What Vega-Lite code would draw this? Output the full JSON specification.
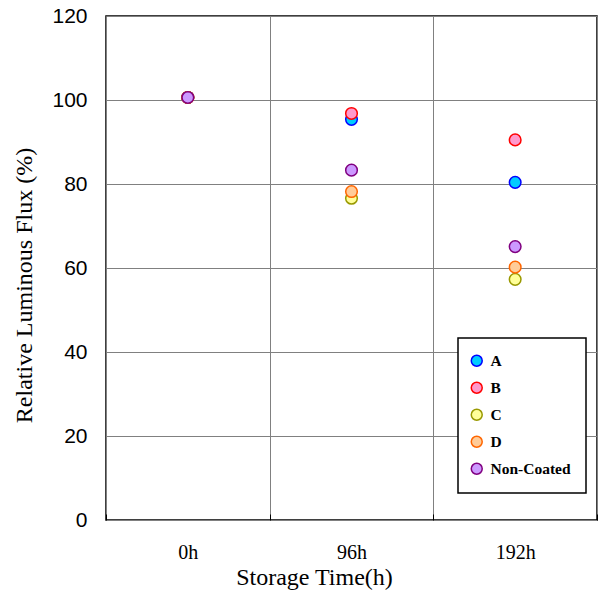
{
  "$schema": "https://vega.github.io/schema/vega-lite/v6.json",
  "autosize": "none",
  "padding": {"left": 106, "top": 16, "right": 6, "bottom": 80},
  "width": 491,
  "height": 504,
  "background": "white",
  "config": {
    "view": {"stroke": "#000", "strokeWidth": 1.5},
    "axis": {"domain": false}
  },
  "data": {
    "values": [
      {"time": "0h", "series": "A", "flux": 100.6},
      {"time": "0h", "series": "B", "flux": 100.6},
      {"time": "0h", "series": "C", "flux": 100.6},
      {"time": "0h", "series": "D", "flux": 100.6},
      {"time": "0h", "series": "Non-Coated", "flux": 100.6},
      {"time": "96h", "series": "A", "flux": 95.4},
      {"time": "96h", "series": "B", "flux": 96.8},
      {"time": "96h", "series": "C", "flux": 76.6},
      {"time": "96h", "series": "D", "flux": 78.2},
      {"time": "96h", "series": "Non-Coated", "flux": 83.3},
      {"time": "192h", "series": "A", "flux": 80.4},
      {"time": "192h", "series": "B", "flux": 90.5},
      {"time": "192h", "series": "C", "flux": 57.3},
      {"time": "192h", "series": "D", "flux": 60.2},
      {"time": "192h", "series": "Non-Coated", "flux": 65.1}
    ]
  },
  "mark": {"type": "circle", "size": 135, "strokeWidth": 1.5, "opacity": 1},
  "encoding": {
    "x": {
      "field": "time", "type": "nominal", "sort": ["0h", "96h", "192h"],
      "scale": {"paddingInner": 0, "paddingOuter": 0},
      "axis": {
        "title": "Storage Time(h)", "labelAngle": 0, "tickBand": "extent",
        "grid": true, "gridColor": "#808080", "gridWidth": 1, "gridOpacity": 1,
        "ticks": true, "tickSize": -6, "tickColor": "#000", "tickWidth": 1,
        "labelFont": "Liberation Serif", "labelFontSize": 20, "labelColor": "#000",
        "labelPadding": 28,
        "titleFont": "Liberation Serif", "titleFontSize": 24, "titleFontWeight": "normal",
        "titleColor": "#000", "titlePadding": 3, "titleX": 208, "titleAlign": "center"
      }
    },
    "y": {
      "field": "flux", "type": "quantitative",
      "scale": {"domain": [0, 120], "nice": false, "zero": true},
      "axis": {
        "title": "Relative Luminous Flux (%)", "values": [0, 20, 40, 60, 80, 100, 120],
        "grid": true, "gridColor": "#808080", "gridWidth": 1, "gridOpacity": 1,
        "ticks": false,
        "labelFont": "Liberation Sans", "labelFontSize": 21, "labelColor": "#000",
        "labelPadding": 19,
        "titleFont": "Liberation Serif", "titleFontSize": 24, "titleFontWeight": "normal",
        "titleColor": "#000", "titlePadding": 15, "titleY": 269, "titleAlign": "center"
      }
    },
    "fill": {
      "field": "series", "type": "nominal",
      "scale": {
        "domain": ["A", "B", "C", "D", "Non-Coated"],
        "range": ["#00CCFF", "#FF99CC", "#FFFF99", "#FFCC99", "#CC99FF"]
      },
      "legend": {
        "title": null, "orient": "none", "legendX": 352, "legendY": 322,
        "direction": "vertical",
        "fillColor": "white", "strokeColor": "#000",
        "padding": 15, "rowPadding": 9, "symbolSize": 120, "symbolStrokeWidth": 1.5,
        "symbolOpacity": 1, "symbolType": "circle", "symbolOffset": -4,
        "labelFont": "Liberation Serif", "labelFontSize": 15.5, "labelFontWeight": "bold",
        "labelColor": "#000", "labelOffset": 6,
        "encode": {"legend": {"update": {"strokeWidth": {"value": 1.5}}}}
      }
    },
    "stroke": {
      "field": "series", "type": "nominal",
      "scale": {
        "domain": ["A", "B", "C", "D", "Non-Coated"],
        "range": ["#0000FF", "#FF0000", "#999900", "#FF6600", "#800080"]
      },
      "legend": {
        "title": null
      }
    }
  }
}
